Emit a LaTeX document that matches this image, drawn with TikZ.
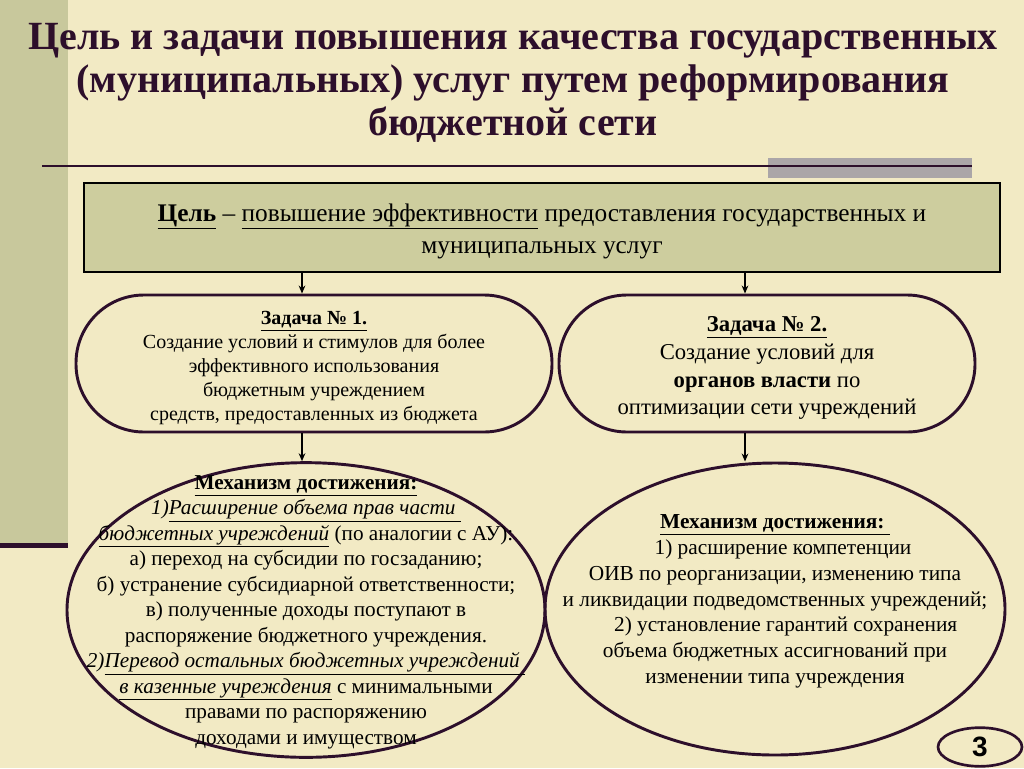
\documentclass[tikz,border=0pt]{standalone}
\usepackage{fontspec}
\setmainfont{Liberation Serif}
\newfontfamily\badgefont{Liberation Sans}
\usetikzlibrary{shapes.geometric,arrows.meta}

\definecolor{bgcream}{HTML}{F2EAC4}
\definecolor{stripe}{HTML}{C8C89C}
\definecolor{goalfill}{HTML}{CDCD9E}
\definecolor{plum}{HTML}{2D0F2B}
\definecolor{bargray}{HTML}{ABA6A8}

% text that does not widen the shape round it
\def\flattext[#1]#2{\raisebox{#1}[0pt][0pt]{\makebox[0pt]{\begin{tabular}{@{}c@{}}#2\end{tabular}}}}

\tikzset{
	taskbox/.style={draw=plum, line width=2.2pt, rounded corners=51pt, minimum height=102.75pt},
	mechbox/.style={ellipse, draw=plum, line width=2.2pt, inner sep=0pt},
	arr/.style={-{Stealth[length=6pt,width=5pt]}, line width=1.5pt}
}

\begin{document}
\begin{tikzpicture}[x=0.75pt, y=-0.75pt]
		%%%%% START %%%%%
		
		\useasboundingbox[fill=bgcream] (0, 0) rectangle (1024, 768);
		
		% left stripe
		\fill[stripe] (0, 0) rectangle (68, 545);
		\fill[plum] (0, 543) rectangle (68, 548);
		
		% title
		\node[text=plum, align=center, font=\fontsize{30}{32.3}\selectfont\bfseries] (title) at (513, 83)
			{Цель и задачи повышения качества государственных\\
			 (муниципальных) услуг путем реформирования\\
			 бюджетной сети};
		
		\fill[bargray] (768, 158) rectangle (972, 178);
		\draw[plum, line width=1.5pt] (42, 166) -- (972, 166);
		
		% goal
		\node[draw, fill=goalfill, line width=0.8pt, minimum width=687pt, minimum height=66.75pt,
			font=\fontsize{19}{24}\selectfont] (goal) at (542, 227.5)
			{\flattext[-7pt]{\textbf{\underline{Цель}} – \underline{повышение эффективности} предоставления государственных и\\
			 муниципальных услуг}};
		
		% tasks
		\node[taskbox, minimum width=357pt, font=\fontsize{15}{18}\selectfont] (task1) at (314, 363.5)
			{\flattext[-7pt]{\textbf{\underline{Задача № 1.}}\\
			 Создание условий и стимулов для более\\
			 эффективного использования\\
			 бюджетным учреждением\\
			 средств, предоставленных из бюджета}};
		\node[taskbox, minimum width=312pt, font=\fontsize{17}{20.8}\selectfont] (task2) at (767, 363.5)
			{\flattext[-7.5pt]{\textbf{\underline{Задача № 2.}}\\
			 Создание условий для\\
			 \textbf{органов власти} по\\
			 оптимизации сети учреждений}};
		
		% mechanisms
		\node[mechbox, minimum width=358.5pt, minimum height=221pt, font=\fontsize{15.9}{19.1}\selectfont] (mech1) at (306, 610)
			{\flattext[-5.5pt]{\textbf{\underline{Механизм достижения:}}\\
			 \textit{1)\underline{Расширение объема прав части~}}\\
			 \textit{\underline{бюджетных учреждений}} (по аналогии с АУ):\\
			 а) переход на субсидии по госзаданию;\\
			 б) устранение субсидиарной ответственности;\\
			 в) полученные доходы поступают в\\
			 распоряжение бюджетного учреждения.\\
			 \textit{2)\underline{Перевод остальных бюджетных учреждений~}}\\
			 \textit{\underline{в казенные учреждения}} с минимальными\\
			 правами по распоряжению\\
			 доходами и имуществом}};
		\node[mechbox, minimum width=345pt, minimum height=219pt, font=\fontsize{16}{19.35}\selectfont] (mech2) at (775, 609)
			{\flattext[1.7pt]{\textbf{\underline{Механизм достижения:~}}\\
			 \hspace{12pt}1) расширение компетенции\\
			 ОИВ по реорганизации, изменению типа\\
			 и ликвидации подведомственных учреждений;\\
			 \hspace{16pt}2) установление гарантий сохранения\\
			 объема бюджетных ассигнований при\\
			 изменении типа учреждения}};
		
		% page number
		\node[ellipse, draw=plum, line width=2pt, minimum width=63pt, minimum height=29pt, inner sep=0pt,
			font=\badgefont\fontsize{21}{21}\selectfont\bfseries] (badge) at (980, 747) {3};
		
		% arrows
		\coordinate (left) at (302, 0);
		\coordinate (right) at (745, 0);
		\draw[arr] (goal.south -| left) -- (task1.north -| left);
		\draw[arr] (goal.south -| right) -- (task2.north -| right);
		\draw[arr] (task1.south -| left) -- (mech1.north -| left);
		\draw[arr] (task2.south -| right) -- (mech2.north -| right);
		
		%%%%% END %%%%%
	\end{tikzpicture}
\end{document}
